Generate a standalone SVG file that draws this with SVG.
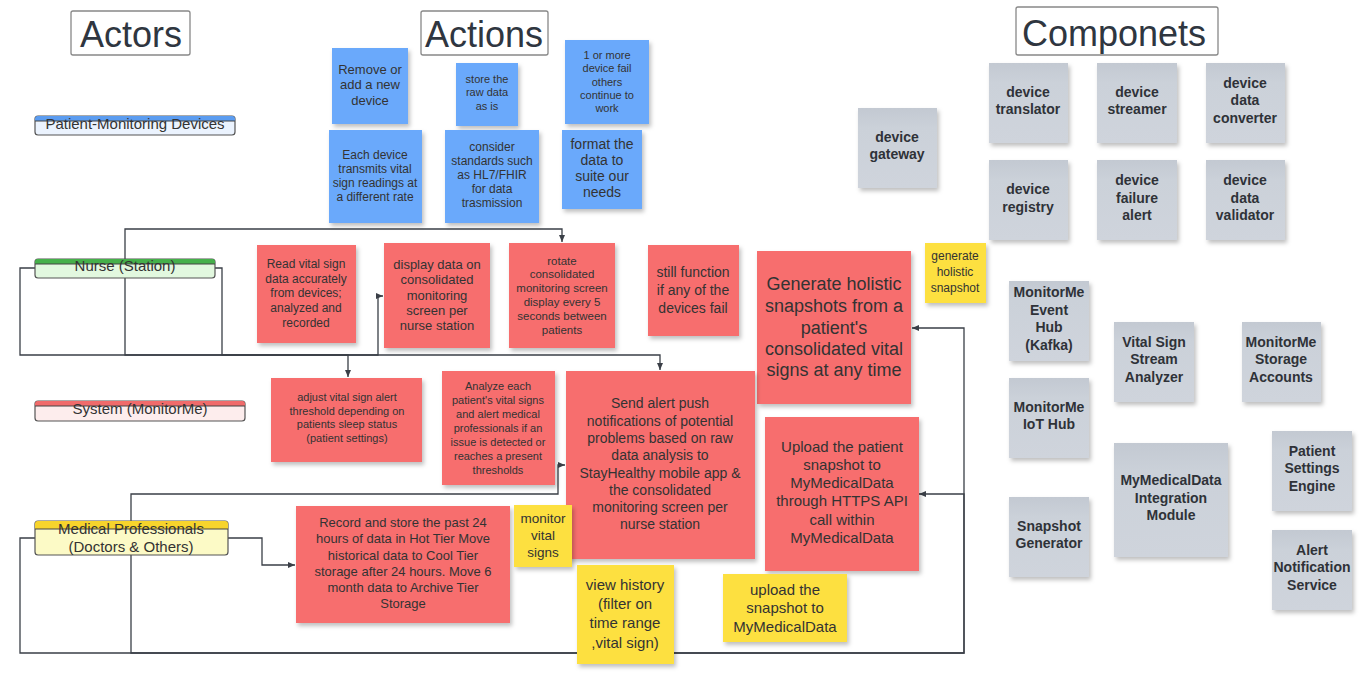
<svg xmlns="http://www.w3.org/2000/svg" width="1366" height="683" viewBox="0 0 1366 683">
<defs>
<filter id="sh" x="-10%" y="-10%" width="130%" height="130%">
<feDropShadow dx="2" dy="3" stdDeviation="2" flood-color="#000" flood-opacity="0.25"/>
</filter>
<linearGradient id="gg" x1="0" y1="0" x2="0" y2="1">
<stop offset="0" stop-color="#c3c9d2"/>
<stop offset="0.25" stop-color="#cbd1d9"/>
<stop offset="1" stop-color="#cfd4dc"/>
</linearGradient>
<marker id="ar" markerWidth="8" markerHeight="8" refX="7" refY="4" orient="auto" markerUnits="userSpaceOnUse">
<path d="M0,1 L7,4 L0,7 Z" fill="#3a3f47"/>
</marker>
</defs>
<style>
text{font-family:"Liberation Sans",Arial,sans-serif;fill:#333;text-anchor:middle;dominant-baseline:central}
.title rect{fill:#fff;stroke:#888;stroke-width:1.3}
.title text{font-size:36px;fill:#2f3640}
.blue rect{fill:#6aa9fb;filter:url(#sh)}
.red rect{fill:#f76e6e;filter:url(#sh)}
.yel rect{fill:#fde03f;filter:url(#sh)}
.comp rect{fill:url(#gg);filter:url(#sh)}
.comp text{font-weight:bold;font-size:14px;fill:#2f3238}
.lane text{font-size:15px;fill:#333}
.lane .bd{stroke:#555;stroke-width:1.2}
.conn path{fill:none;stroke:#3a3f47;stroke-width:1.3}
.conn .a{marker-end:url(#ar)}
</style>
<rect width="1366" height="683" fill="#fff"/>

<g id="title-actors" class="title"><rect x="71" y="11" width="119" height="44" rx="2"/><text x="131" y="34">Actors</text></g>
<g id="title-actions" class="title"><rect x="421" y="11" width="127" height="44" rx="2"/><text x="484" y="34">Actions</text></g>
<g id="title-components" class="title"><rect x="1016" y="7" width="202" height="48" rx="2"/><text x="1114" y="33">Componets</text></g>

<g id="connectors" class="conn">
<path class="a" d="M125,268 V229 H562 V242"/>
<path class="a" d="M35,268 H20 V355 H348 V377"/>
<path class="a" d="M125,278 V355 H378 V296 H383"/>
<path class="a" d="M215,268 H222 V355 H660 V370"/>
<path class="a" d="M131,521 V494 H558 V465 H565"/>
<path class="a" d="M228,538 H262 V565 H295"/>
<path class="a" d="M35,538 H20 V653 H964 V328 H912"/>
<path class="a" d="M131,555 V653 H964 V494 H919"/>
</g>

<g id="actor-devices" class="lane">
<rect class="bd" x="35" y="116" width="200" height="19" rx="3" fill="#ebf3fe"/>
<path d="M38,116 H232 A3,3 0 0 1 235,119 V121 H35 V119 A3,3 0 0 1 38,116 Z" fill="#5b9cf0"/>
<line x1="35" y1="121" x2="235" y2="121" stroke="#444" stroke-width="1"/>
<text x="135" y="123">Patient-Monitoring Devices</text>
</g>
<g id="actor-nurse" class="lane">
<rect class="bd" x="35" y="259" width="180" height="19" rx="3" fill="#e2f8df"/>
<path d="M38,259 H212 A3,3 0 0 1 215,262 V264 H35 V262 A3,3 0 0 1 38,259 Z" fill="#45b04a"/>
<line x1="35" y1="264" x2="215" y2="264" stroke="#444" stroke-width="1"/>
<text x="125" y="265">Nurse (Station)</text>
</g>
<g id="actor-system" class="lane">
<rect class="bd" x="35" y="401" width="210" height="20" rx="3" fill="#fdeded"/>
<path d="M38,401 H242 A3,3 0 0 1 245,404 V406 H35 V404 A3,3 0 0 1 38,401 Z" fill="#f06b6b"/>
<line x1="35" y1="406" x2="245" y2="406" stroke="#444" stroke-width="1"/>
<text x="140" y="408">System (MonitorMe)</text>
</g>
<g id="actor-medical" class="lane">
<rect class="bd" x="35" y="521" width="193" height="34" rx="3" fill="#fcfac6"/>
<path d="M38,521 H225 A3,3 0 0 1 228,524 V529 H35 V524 A3,3 0 0 1 38,521 Z" fill="#f7d42c"/>
<line x1="35" y1="529" x2="228" y2="529" stroke="#444" stroke-width="1"/>
<text x="131" y="528">Medical Professionals</text>
<text x="131" y="546">(Doctors &amp; Others)</text>
</g>

<g id="b-remove" class="blue"><rect x="332" y="48" width="76" height="76"/>
<text x="370" y="69" font-size="13">Remove or</text><text x="370" y="84" font-size="13">add a new</text><text x="370" y="100" font-size="13">device</text></g>
<g id="b-store" class="blue"><rect x="456" y="63" width="62" height="63"/>
<text x="487" y="79" font-size="11">store the</text><text x="487" y="92" font-size="11">raw data</text><text x="487" y="106" font-size="11">as is</text></g>
<g id="b-fail" class="blue"><rect x="565" y="40" width="84" height="84"/>
<text x="607" y="55" font-size="11">1 or more</text><text x="607" y="68" font-size="11">device fail</text><text x="607" y="82" font-size="11">others</text><text x="607" y="95" font-size="11">continue to</text><text x="607" y="108" font-size="11">work</text></g>
<g id="b-each" class="blue"><rect x="329" y="130" width="93" height="93"/>
<text x="375" y="155" font-size="12">Each device</text><text x="375" y="169" font-size="12">transmits vital</text><text x="375" y="183" font-size="12">sign readings at</text><text x="375" y="197" font-size="12">a different rate</text></g>
<g id="b-standards" class="blue"><rect x="445" y="130" width="94" height="93"/>
<text x="492" y="147" font-size="12">consider</text><text x="492" y="161" font-size="12">standards such</text><text x="492" y="175" font-size="12">as HL7/FHIR</text><text x="492" y="189" font-size="12">for data</text><text x="492" y="203" font-size="12">trasmission</text></g>
<g id="b-format" class="blue"><rect x="562" y="130" width="80" height="79"/>
<text x="602" y="144" font-size="14">format the</text><text x="602" y="160" font-size="14">data to</text><text x="602" y="176" font-size="14">suite our</text><text x="602" y="192" font-size="14">needs</text></g>

<g id="r-read" class="red"><rect x="257" y="245" width="99" height="98"/>
<text x="306" y="264" font-size="12">Read vital sign</text><text x="306" y="279" font-size="12">data accurately</text><text x="306" y="293" font-size="12">from devices;</text><text x="306" y="308" font-size="12">analyzed and</text><text x="306" y="323" font-size="12">recorded</text></g>
<g id="r-display" class="red"><rect x="384" y="243" width="106" height="105"/>
<text x="437" y="264" font-size="13">display data on</text><text x="437" y="279" font-size="13">consolidated</text><text x="437" y="295" font-size="13">monitoring</text><text x="437" y="310" font-size="13">screen per</text><text x="437" y="325" font-size="13">nurse station</text></g>
<g id="r-rotate" class="red"><rect x="509" y="243" width="106" height="105"/>
<text x="562" y="261" font-size="11.5">rotate</text><text x="562" y="274" font-size="11.5">consolidated</text><text x="562" y="288" font-size="11.5">monitoring screen</text><text x="562" y="302" font-size="11.5">display every 5</text><text x="562" y="316" font-size="11.5">seconds between</text><text x="562" y="330" font-size="11.5">patients</text></g>
<g id="r-still" class="red"><rect x="648" y="245" width="91" height="91"/>
<text x="693" y="272" font-size="14">still function</text><text x="693" y="290" font-size="14">if any of the</text><text x="693" y="308" font-size="14">devices fail</text></g>
<g id="r-generate" class="red"><rect x="757" y="251" width="154" height="153"/>
<text x="834" y="284" font-size="18">Generate holistic</text><text x="834" y="306" font-size="18">snapshots from a</text><text x="834" y="328" font-size="18">patient's</text><text x="834" y="349" font-size="18">consolidated vital</text><text x="834" y="370" font-size="18">signs at any time</text></g>
<g id="r-upload" class="red"><rect x="765" y="417" width="154" height="154"/>
<text x="842" y="446" font-size="15">Upload the patient</text><text x="842" y="464" font-size="15">snapshot to</text><text x="842" y="482" font-size="15">MyMedicalData</text><text x="842" y="500" font-size="15">through HTTPS API</text><text x="842" y="519" font-size="15">call within</text><text x="842" y="537" font-size="15">MyMedicalData</text></g>
<g id="r-adjust" class="red"><rect x="271" y="378" width="151" height="84"/>
<text x="347" y="397" font-size="11">adjust vital sign alert</text><text x="347" y="411" font-size="11">threshold depending on</text><text x="347" y="424" font-size="11">patients sleep status</text><text x="347" y="438" font-size="11">(patient settings)</text></g>
<g id="r-analyze" class="red"><rect x="442" y="371" width="113" height="114"/>
<text x="498" y="386" font-size="11">Analyze each</text><text x="498" y="400" font-size="11">patient's vital signs</text><text x="498" y="414" font-size="11">and alert medical</text><text x="498" y="428" font-size="11">professionals if an</text><text x="498" y="442" font-size="11">issue is detected or</text><text x="498" y="456" font-size="11">reaches a present</text><text x="498" y="470" font-size="11">thresholds</text></g>
<g id="r-send" class="red"><rect x="566" y="371" width="189" height="188"/>
<text x="660" y="403" font-size="14">Send alert push</text><text x="660" y="421" font-size="14">notifications of potential</text><text x="660" y="438" font-size="14">problems based on raw</text><text x="660" y="455" font-size="14">data analysis to</text><text x="660" y="473" font-size="14">StayHealthy mobile app &amp;</text><text x="660" y="490" font-size="14">the consolidated</text><text x="660" y="507" font-size="14">monitoring screen per</text><text x="660" y="524" font-size="14">nurse station</text></g>
<g id="r-record" class="red"><rect x="296" y="506" width="214" height="117"/>
<text x="403" y="522" font-size="13">Record and store the past 24</text><text x="403" y="538" font-size="13">hours of data in Hot Tier Move</text><text x="403" y="555" font-size="13">historical data to Cool Tier</text><text x="403" y="571" font-size="13">storage after 24 hours. Move 6</text><text x="403" y="587" font-size="13">month data to Archive Tier</text><text x="403" y="603" font-size="13">Storage</text></g>

<g id="y-generate" class="yel"><rect x="925" y="243" width="61" height="60"/>
<text x="955" y="256" font-size="12">generate</text><text x="955" y="272" font-size="12">holistic</text><text x="955" y="288" font-size="12">snapshot</text></g>
<g id="y-monitor" class="yel"><rect x="514" y="505" width="58" height="62"/>
<text x="543" y="518" font-size="13.5">monitor</text><text x="543" y="535" font-size="13.5">vital</text><text x="543" y="552" font-size="13.5">signs</text></g>
<g id="y-history" class="yel"><rect x="577" y="565" width="97" height="99"/>
<text x="625" y="584" font-size="15">view history</text><text x="625" y="603" font-size="15">(filter on</text><text x="625" y="622" font-size="15">time range</text><text x="625" y="642" font-size="15">,vital sign)</text></g>
<g id="y-upload" class="yel"><rect x="723" y="574" width="124" height="68"/>
<text x="785" y="589" font-size="15">upload the</text><text x="785" y="607" font-size="15">snapshot to</text><text x="785" y="626" font-size="15">MyMedicalData</text></g>

<g id="c-gateway" class="comp"><rect x="858" y="108" width="79" height="80"/><text x="897" y="137">device</text><text x="897" y="154">gateway</text></g>
<g id="c-translator" class="comp"><rect x="989" y="63" width="79" height="80"/><text x="1028" y="92">device</text><text x="1028" y="109">translator</text></g>
<g id="c-streamer" class="comp"><rect x="1097" y="63" width="80" height="80"/><text x="1137" y="92">device</text><text x="1137" y="109">streamer</text></g>
<g id="c-converter" class="comp"><rect x="1206" y="63" width="79" height="80"/><text x="1245" y="83">device</text><text x="1245" y="100">data</text><text x="1245" y="118">converter</text></g>
<g id="c-registry" class="comp"><rect x="989" y="160" width="79" height="80"/><text x="1028" y="189">device</text><text x="1028" y="207">registry</text></g>
<g id="c-failure" class="comp"><rect x="1097" y="160" width="80" height="80"/><text x="1137" y="180">device</text><text x="1137" y="198">failure</text><text x="1137" y="215">alert</text></g>
<g id="c-validator" class="comp"><rect x="1206" y="160" width="79" height="80"/><text x="1245" y="180">device</text><text x="1245" y="198">data</text><text x="1245" y="215">validator</text></g>
<g id="c-eventhub" class="comp"><rect x="1009" y="281" width="80" height="80"/><text x="1049" y="292">MonitorMe</text><text x="1049" y="310">Event</text><text x="1049" y="327">Hub</text><text x="1049" y="345">(Kafka)</text></g>
<g id="c-iothub" class="comp"><rect x="1009" y="378" width="80" height="80"/><text x="1049" y="407">MonitorMe</text><text x="1049" y="424">IoT Hub</text></g>
<g id="c-snapshot" class="comp"><rect x="1009" y="497" width="80" height="80"/><text x="1049" y="526">Snapshot</text><text x="1049" y="543">Generator</text></g>
<g id="c-analyzer" class="comp"><rect x="1114" y="322" width="80" height="80"/><text x="1154" y="342">Vital Sign</text><text x="1154" y="359">Stream</text><text x="1154" y="377">Analyzer</text></g>
<g id="c-storage" class="comp"><rect x="1242" y="322" width="79" height="80"/><text x="1281" y="342">MonitorMe</text><text x="1281" y="359">Storage</text><text x="1281" y="377">Accounts</text></g>
<g id="c-integration" class="comp"><rect x="1114" y="443" width="114" height="114"/><text x="1171" y="480">MyMedicalData</text><text x="1171" y="498">Integration</text><text x="1171" y="515">Module</text></g>
<g id="c-settings" class="comp"><rect x="1272" y="431" width="80" height="80"/><text x="1312" y="451">Patient</text><text x="1312" y="468">Settings</text><text x="1312" y="486">Engine</text></g>
<g id="c-alert" class="comp"><rect x="1272" y="530" width="80" height="80"/><text x="1312" y="550">Alert</text><text x="1312" y="567">Notification</text><text x="1312" y="585">Service</text></g>
</svg>
